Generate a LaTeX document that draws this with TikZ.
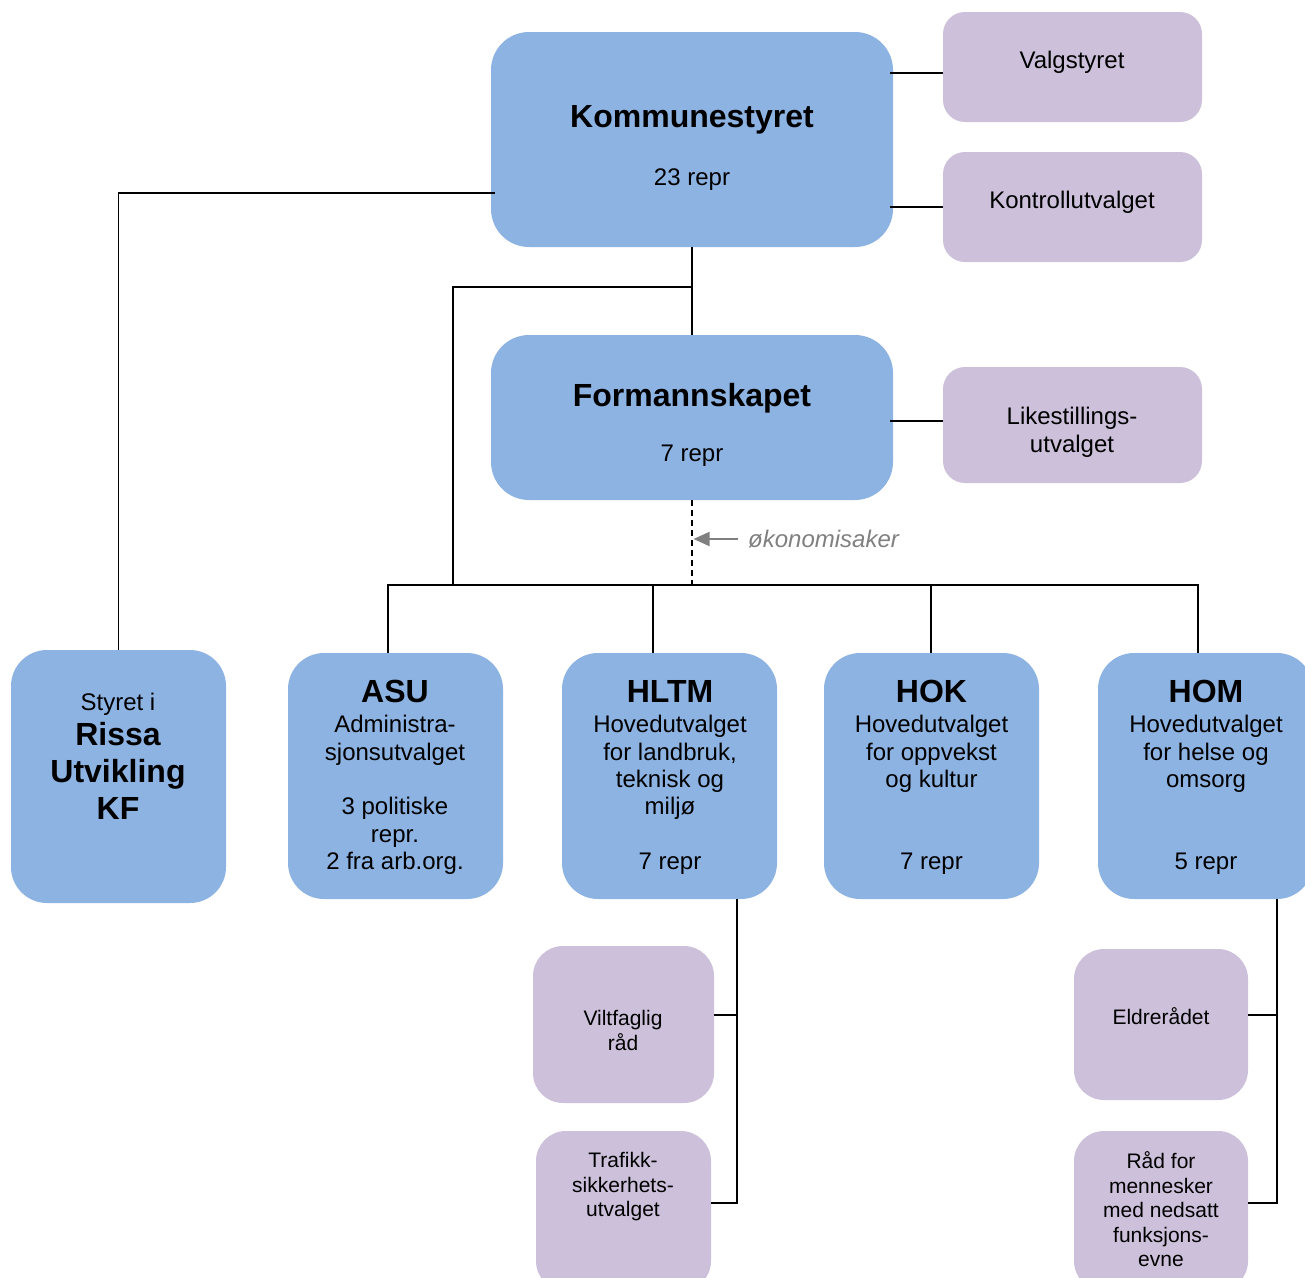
\documentclass[tikz,border=0pt]{standalone}
\usepackage{fontspec}
\setmainfont{Liberation Sans}
\usetikzlibrary{arrows.meta,calc}
\definecolor{boxblue}{HTML}{8DB3E2}
\definecolor{boxpurple}{HTML}{CCC0DA}
\definecolor{notegray}{HTML}{808080}
\begin{document}
\begin{tikzpicture}[x=1pt,y=-1pt,
  bigbox/.style={fill=boxblue, draw=none, rounded corners=38pt, inner sep=0pt, minimum width=402pt},
  subbox/.style={fill=boxblue, draw=none, rounded corners=36pt, inner sep=0pt, minimum width=215pt},
  sidebox/.style={fill=boxpurple, draw=none, rounded corners=22pt, inner sep=0pt, minimum width=259pt},
  leafbox/.style={fill=boxpurple, draw=none, rounded corners=30pt, inner sep=0pt},
  bigtitle/.style={font=\fontsize{32}{37}\selectfont\bfseries, align=center, inner sep=0pt},
  bodytext/.style={font=\fontsize{24}{27.4}\selectfont, align=center, inner sep=0pt, yshift=-2.5pt},
  leaftext/.style={font=\fontsize{21}{24.5}\selectfont, align=center, inner sep=0pt},
  notetext/.style={font=\fontsize{24}{27}\selectfont\itshape, text=notegray, inner sep=0pt},
  conn/.style={draw=black, line width=1.8pt},
  dashconn/.style={draw=black, line width=1.8pt, dash pattern=on 6pt off 4pt},
  notearrow/.style={draw=notegray, line width=1.8pt, -{Triangle[length=16pt,width=14pt]}}
]
\useasboundingbox (0,0) rectangle (1305,1277);

% ---- boxes ----
\node[bigbox, minimum height=215pt] (kom) at (692,139.5) {};
\node[bigbox, minimum height=165pt] (form) at (692,417.5) {};
\node[sidebox, minimum height=110pt] (valg) at (1072.5,67) {};
\node[sidebox, minimum height=110pt] (kontroll) at (1072.5,207) {};
\node[sidebox, minimum height=116pt] (like) at (1072.5,425) {};

\node[subbox, minimum height=253pt] (rissa) at (118.5,776.5) {};
\node[subbox, minimum height=246pt] (asu) at (395.5,776) {};
\node[subbox, minimum height=246pt] (hltm) at (669.5,776) {};
\node[subbox, minimum height=246pt] (hok) at (931.5,776) {};
\node[subbox, minimum height=246pt] (hom) at (1205.5,776) {};

\node[leafbox, minimum width=181pt, minimum height=157pt] (vilt) at (623.5,1024.5) {};
\node[leafbox, minimum width=175pt, minimum height=160pt] (traf) at (623.5,1211) {};
\node[leafbox, minimum width=174pt, minimum height=151pt] (eldre) at (1161,1024.5) {};
\node[leafbox, minimum width=174pt, minimum height=160pt] (radfor) at (1161,1211) {};

% ---- texts ----
\node[bigtitle, yshift=-3pt] (komT) at (692,117) {Kommunestyret};
\node[bodytext] (komB) at (692,177) {23 repr};
\node[bigtitle, yshift=-3pt] (formT) at (692,395) {Formannskapet};
\node[bodytext] (formB) at (692,453) {7 repr};
\node[bodytext] (valgT) at (1072,60) {Valgstyret};
\node[bodytext] (kontrollT) at (1072,200) {Kontrollutvalget};
\node[bodytext, font=\fontsize{24}{28}\selectfont] (likeT) at (1072,430) {Likestillings-\\utvalget};

\node[bodytext] (rissaA) at (118,702) {Styret i};
\node[bigtitle] (rissaT) at (118,771) {Rissa\\Utvikling\\KF};

\node[bigtitle] (asuT) at (395,691) {ASU};
\node[bodytext] (asuB) at (395,792.5) {Administra-\\sjonsutvalget\\~\\3 politiske\\repr.\\2 fra arb.org.};
\node[bigtitle] (hltmT) at (670,691) {HLTM};
\node[bodytext] (hltmB) at (670,792.5) {Hovedutvalget\\for landbruk,\\teknisk og\\miljø\\~\\7 repr};
\node[bigtitle] (hokT) at (931.5,691) {HOK};
\node[bodytext] (hokB) at (931.5,792.5) {Hovedutvalget\\for oppvekst\\og kultur\\~\\~\\7 repr};
\node[bigtitle] (homT) at (1206,691) {HOM};
\node[bodytext] (homB) at (1206,792.5) {Hovedutvalget\\for helse og\\omsorg\\~\\~\\5 repr};

\node[leaftext] (viltT) at (623,1030.5) {Viltfaglig\\råd};
\node[leaftext] (trafT) at (623,1187) {Trafikk-\\sikkerhets-\\utvalget};
\node[leaftext] (eldreT) at (1161,1016) {Eldrerådet};
\node[leaftext] (radforT) at (1161,1209.5) {Råd for\\mennesker\\med nedsatt\\funksjons-\\evne};

\node[notetext, anchor=west] (oko) at (748,539) {økonomisaker};

% ---- helper coordinates ----
\coordinate (yValg) at (0,73);
\coordinate (yKontroll) at (0,207);
\coordinate (yLike) at (0,421);
\coordinate (yRissa) at (0,193);
\coordinate (yMid) at (0,287);
\coordinate (yBus) at (0,585);
\coordinate (xBranch) at (453,0);
\coordinate (xAsu) at (388,0);
\coordinate (xHltm) at (653,0);
\coordinate (xHok) at (931,0);
\coordinate (xHom) at (1198,0);
\coordinate (hA) at (737,1015);
\coordinate (hB) at (737,1203);
\coordinate (mA) at (1277,1015);
\coordinate (mB) at (1277,1203);

% ---- connectors ----
\draw[conn] ([xshift=-3pt]kom.east |- yValg) -- (valg.west |- yValg);
\draw[conn] ([xshift=-3pt]kom.east |- yKontroll) -- (kontroll.west |- yKontroll);
\draw[conn] ([xshift=-3pt]form.east |- yLike) -- (like.west |- yLike);

\draw[conn] ([xshift=4pt]kom.west |- yRissa) -| (rissa.north);
\draw[conn] (kom.south) -- (form.north);
\draw[conn] (kom.south |- yMid) -| (xBranch |- yBus);
\draw[dashconn] (form.south) -- (form.south |- yBus);

\draw[conn] (xAsu |- asu.north) |- (xHom |- yBus) -- (xHom |- hom.north);
\draw[conn] (xHltm |- yBus) -- (xHltm |- hltm.north);
\draw[conn] (xHok |- yBus) -- (xHok |- hok.north);

\draw[conn] (hltm.south -| hA) -- (hB) -- (hB -| traf.east);
\draw[conn] (hA) -- (hA -| vilt.east);
\draw[conn] (hom.south -| mA) -- (mB) -- (mB -| radfor.east);
\draw[conn] (mA) -- (mA -| eldre.east);

\draw[notearrow, shorten >=1.5pt] ([xshift=-10pt]oko.west) -- (form.south |- oko.west);
\end{tikzpicture}
\end{document}
